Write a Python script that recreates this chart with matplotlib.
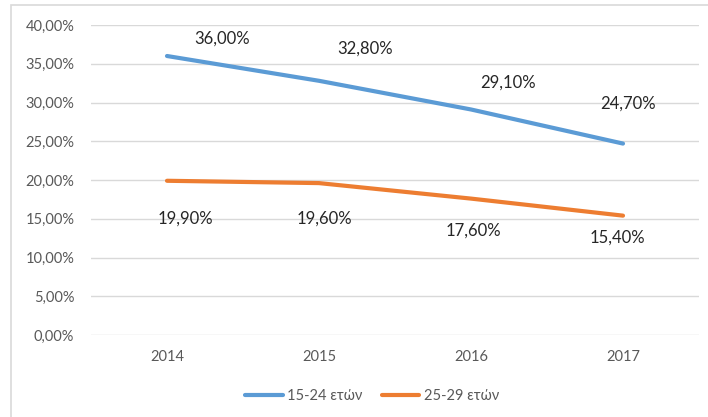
import numpy as np
import matplotlib.pyplot as plt
from matplotlib.patches import Rectangle
from matplotlib.ticker import FuncFormatter

years = ["2014", "2015", "2016", "2017"]
youth_15_24 = [36.0, 32.8, 29.1, 24.7]
youth_25_29 = [19.9, 19.6, 17.6, 15.4]
series_names = ["15-24 ετών", "25-29 ετών"]

# label offsets in pixels (dx, dy), placed like the excel labels
off_blue = [(55, 17), (46, 32), (37, 27), (5, 40)]
off_orange = [(18, -38), (5, -36), (2, -32), (-6, -22)]

plt.rcParams['font.family'] = ['Lato', 'Open Sans', 'DejaVu Sans']

W, H = 708, 417
fig = plt.figure(figsize=(W / 100, H / 100), dpi=100)
ax = fig.add_axes([91 / W, 1 - 335 / H, 608 / W, 310 / H])

# outer chart border (goes off the right and bottom edge)
fig.patches.append(Rectangle((11 / W, -0.05), 1.2, 1 - 5 / H + 0.05,
                             transform=fig.transFigure, fill=False,
                             edgecolor="#D9D9D9", lw=1.2))

x = np.arange(len(years))
blue = "#5B9BD5"
orange = "#ED7D31"
ax.plot(x, youth_15_24, color=blue, lw=3, solid_capstyle="round", label=series_names[0])
ax.plot(x, youth_25_29, color=orange, lw=3, solid_capstyle="round", label=series_names[1])

def fmt(v):
    return ("%.2f%%" % v).replace(".", ",")

for i in range(len(years)):
    ax.annotate(fmt(youth_15_24[i]), (x[i], youth_15_24[i]), xytext=off_blue[i],
                textcoords="offset pixels", ha="center", va="center",
                fontsize=12, color="#262626")
    ax.annotate(fmt(youth_25_29[i]), (x[i], youth_25_29[i]), xytext=off_orange[i],
                textcoords="offset pixels", ha="center", va="center",
                fontsize=12, color="#262626")

ax.set_xlim(-0.5, len(years) - 0.5)
ax.set_ylim(0, 40)
ax.set_yticks(np.arange(0, 41, 5))
ax.yaxis.set_major_formatter(FuncFormatter(lambda v, p: fmt(v)))
ax.set_xticks(x)
ax.set_xticklabels(years)
ax.grid(axis="y", color="#D9D9D9", lw=1)
ax.set_axisbelow(True)
for s in ax.spines.values():
    s.set_visible(False)
ax.tick_params(length=0, labelsize=10.5, labelcolor="#595959")
ax.tick_params(axis="y", pad=12)
ax.tick_params(axis="x", pad=11)

fig.legend(loc="center", bbox_to_anchor=(372 / W, 21 / H), ncol=2, frameon=False,
           fontsize=10.5, labelcolor="#595959", handlelength=2.6, handletextpad=0.3,
           columnspacing=1.3)

fig.savefig("out.png", dpi=100)
